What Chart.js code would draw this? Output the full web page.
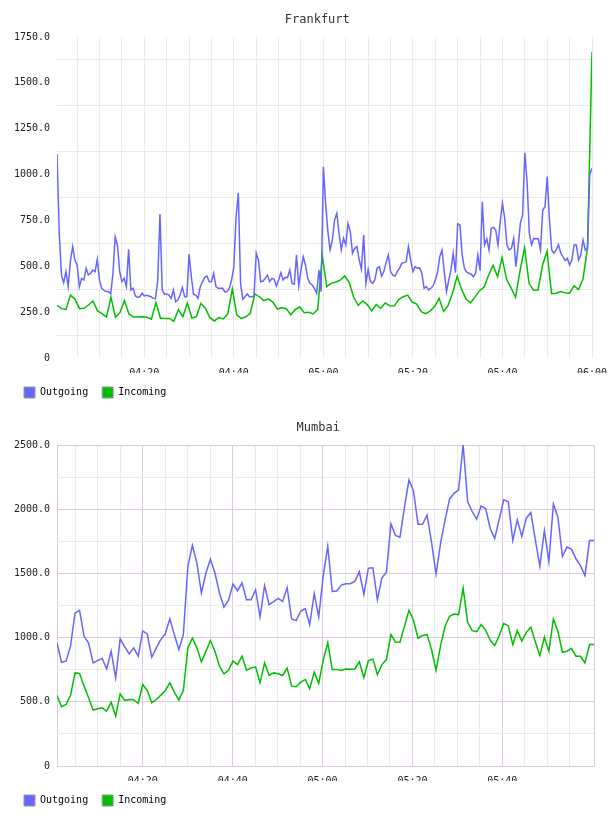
<!DOCTYPE html>
<html>
<head>
<meta charset="utf-8">
<script src="https://cdn.jsdelivr.net/npm/chart.js@4.4.1/dist/chart.umd.min.js"></script>
<style>
    html, body { margin: 0; padding: 0; background: #fff; }
    .chart-box { position: relative; width: 608px; height: 408px; }
</style>
</head>
<body>
<div class="chart-box"><canvas id="frankfurtChart"></canvas></div>
<div class="chart-box"><canvas id="mumbaiChart"></canvas></div>
<script>
// times are minutes after 04:00, samples evenly spread over each window
const seriesNames = ['Outgoing', 'Incoming'];
const frankfurtWindow = [0.5, 120];
const mumbaiWindow = [0.9, 120.4];

const frankfurtOutgoing = [
    1112, 680, 452, 411, 471, 389, 531, 607, 534, 507,
    389, 434, 425, 489, 452, 462, 480, 471, 538, 422,
    380, 369, 362, 362, 349, 462, 661, 616, 471, 416,
    434, 389, 592, 371, 380, 338, 331, 334, 353, 338,
    342, 338, 334, 325, 323, 425, 785, 371, 349, 349,
    343, 325, 371, 307, 316, 343, 385, 334, 334, 567,
    443, 347, 343, 325, 389, 416, 440, 447, 416, 416,
    462, 389, 380, 380, 380, 360, 362, 380, 425, 498,
    770, 901, 407, 320, 334, 349, 334, 334, 338, 571,
    534, 416, 418, 434, 452, 416, 434, 429, 393, 425,
    465, 425, 440, 438, 480, 407, 402, 562, 394, 480,
    552, 507, 434, 407, 398, 380, 353, 480, 361, 1043,
    843, 689, 589, 643, 752, 789, 680, 589, 652, 616,
    734, 689, 571, 598, 607, 534, 485, 671, 407, 483,
    416, 407, 425, 489, 498, 447, 471, 520, 562, 471,
    452, 447, 471, 489, 516, 520, 525, 607, 534, 471,
    498, 489, 491, 462, 380, 389, 371, 380, 393, 425,
    467, 552, 589, 471, 362, 425, 480, 571, 465, 732,
    725, 562, 489, 469, 462, 458, 443, 462, 562, 476,
    852, 616, 650, 589, 707, 712, 698, 616, 743, 843,
    761, 616, 589, 598, 652, 498, 607, 734, 780, 1119,
    961, 680, 618, 652, 650, 650, 589, 807, 825, 989,
    752, 589, 571, 589, 618, 574, 552, 531, 543, 507,
    534, 616, 616, 534, 562, 643, 589, 600, 1000, 1034
];
const frankfurtIncoming = [
    287, 269, 265, 343, 320, 269, 271, 289, 311, 258,
    242, 224, 331, 222, 247, 313, 240, 224, 224, 225,
    222, 211, 302, 218, 216, 216, 200, 264, 225, 300,
    218, 225, 298, 271, 220, 202, 220, 213, 242, 376,
    234, 216, 225, 244, 349, 334, 313, 322, 305, 267,
    274, 269, 236, 265, 278, 247, 249, 240, 265, 558,
    389, 407, 414, 424, 447, 411, 331, 287, 311, 291,
    256, 291, 271, 300, 285, 283, 318, 334, 343, 305,
    294, 253, 242, 256, 280, 325, 254, 287, 356, 445,
    374, 320, 302, 333, 367, 387, 451, 505, 443, 547,
    429, 382, 331, 476, 601, 407, 369, 371, 507, 582,
    351, 353, 362, 356, 353, 393, 373, 431, 600, 1668
];
const mumbaiOutgoing = [
    958, 808, 816, 933, 1192, 1212, 1010, 958, 803, 821,
    839, 756, 894, 687, 990, 927, 873, 920, 855, 1052,
    1028, 847, 920, 984, 1031, 1145, 1023, 907, 1023, 1554,
    1718, 1580, 1347, 1503, 1611, 1503, 1347, 1238, 1290, 1417,
    1365, 1425, 1295, 1295, 1373, 1161, 1404, 1256, 1280, 1306,
    1282, 1389, 1145, 1132, 1205, 1225, 1101, 1342, 1161, 1482,
    1710, 1360, 1363, 1409, 1420, 1420, 1438, 1513, 1337, 1541,
    1544, 1295, 1466, 1510, 1886, 1795, 1782, 2016, 2228, 2143,
    1883, 1883, 1953, 1741, 1495, 1736, 1917, 2080, 2124, 2150,
    2500, 2060, 1982, 1922, 2026, 2003, 1850, 1772, 1922, 2073,
    2057, 1756, 1917, 1788, 1930, 1974, 1762, 1554, 1834, 1593,
    2041, 1938, 1632, 1705, 1689, 1614, 1560, 1482, 1756, 1756
];
const mumbaiIncoming = [
    549, 461, 479, 549, 725, 720, 622, 531, 435, 446,
    453, 427, 497, 389, 562, 510, 518, 516, 487, 635,
    588, 492, 518, 552, 588, 648, 575, 513, 588, 920,
    995, 920, 811, 894, 977, 894, 777, 718, 746, 819,
    790, 855, 746, 764, 772, 648, 803, 705, 725, 718,
    705, 762, 622, 617, 653, 674, 601, 731, 643, 824,
    959, 751, 751, 744, 756, 754, 756, 811, 687, 819,
    834, 712, 790, 829, 1023, 966, 964, 1088, 1212, 1135,
    995, 1016, 1023, 907, 746, 938, 1088, 1166, 1184, 1179,
    1386, 1119, 1054, 1047, 1101, 1057, 979, 938, 1016, 1109,
    1093, 946, 1054, 974, 1041, 1080, 966, 860, 1003, 894,
    1145, 1049, 886, 894, 917, 855, 855, 803, 946, 946
];

const frankfurtYLabels = [0, 250, 500, 750, 1000, 1250, 1500, 1750];
const mumbaiYLabels = [0, 500, 1000, 1500, 2000, 2500];
const frankfurtXLabels = [20, 40, 60, 80, 100, 120];
const mumbaiXLabels = [20, 40, 60, 80, 100];

const FONT = 'DejaVu Sans Mono';
const LINE_COLORS = ['#6666ff', '#00bf00'];
const GRID_GREY = '#eaeaea';
const GRID_PINK = '#e2c6e2';

function spreadTimes(n, win) {
    const step = (win[1] - win[0]) / (n - 1);
    return Array.from({ length: n }, (_, i) => win[0] + i * step);
}

function toPoints(values, win) {
    const times = spreadTimes(values.length, win);
    return values.map((v, i) => ({ x: times[i], y: v }));
}

function timeLabel(m) {
    const h = 4 + Math.floor(m / 60);
    const mm = m % 60;
    return String(h).padStart(2, '0') + ':' + String(mm).padStart(2, '0');
}

function buildChart(canvasId, cfg) {
    const ctx = document.getElementById(canvasId);
    const yLabels = cfg.yLabels;
    const yMax = yLabels[yLabels.length - 1];
    const yMinor = (yLabels[1] - yLabels[0]) / 2;
    const win = cfg.window;

    return new Chart(ctx, {
        type: 'line',
        data: {
            datasets: [
                { label: seriesNames[0], data: toPoints(cfg.outgoing, win) },
                { label: seriesNames[1], data: toPoints(cfg.incoming, win) }
            ].map((ds, i) => Object.assign(ds, {
                borderColor: LINE_COLORS[i],
                backgroundColor: LINE_COLORS[i],
                borderWidth: 1.5,
                pointRadius: 0,
                tension: 0,
                fill: false
            }))
        },
        options: {
            responsive: true,
            maintainAspectRatio: false,
            animation: false,
            events: [],
            layout: { padding: { left: 10, right: cfg.rightPad, top: 0, bottom: 0 } },
            plugins: {
                title: {
                    display: true,
                    fullSize: false,
                    // two trailing spaces pull the centred title a little to the left
                    text: cfg.title + '  ',
                    color: '#333',
                    font: { family: FONT, size: 12, weight: 'normal' },
                    padding: { top: 13, bottom: 9.6 }
                },
                legend: {
                    position: 'bottom',
                    align: 'start',
                    labels: {
                        font: { family: FONT, size: 10 },
                        color: '#222',
                        boxWidth: 11,
                        boxHeight: 11,
                        padding: 14,
                        generateLabels: (chart) => chart.data.datasets.map((ds, i) => ({
                            text: ds.label,
                            fillStyle: ds.borderColor,
                            strokeStyle: '#999',
                            lineWidth: 1,
                            hidden: false,
                            datasetIndex: i
                        }))
                    }
                },
                tooltip: { enabled: false }
            },
            scales: {
                x: {
                    type: 'linear',
                    min: win[0],
                    max: win[1],
                    border: { display: false },
                    afterBuildTicks: (scale) => {
                        const ticks = [];
                        if (cfg.framed) ticks.push({ value: win[0] });
                        for (let m = 5; m < win[1] - 1; m += 5) ticks.push({ value: m });
                        ticks.push({ value: win[1] });
                        scale.ticks = ticks;
                    },
                    afterFit: (scale) => {
                        scale.height = 15;
                        scale.paddingLeft = 0;
                        scale.paddingRight = 0;
                    },
                    grid: {
                        drawTicks: false,
                        color: (c) => {
                            if (!cfg.framed) return GRID_GREY;
                            const v = c.tick ? c.tick.value : 0;
                            return (v === win[0] || v === win[1] || v % 20 === 0) ? GRID_PINK : GRID_GREY;
                        }
                    },
                    ticks: {
                        autoSkip: false,
                        maxRotation: 0,
                        minRotation: 0,
                        padding: 9,
                        color: '#222',
                        font: { family: FONT, size: 10 },
                        callback: (v) => cfg.xLabels.includes(v) ? timeLabel(v) : ''
                    }
                },
                y: {
                    min: 0,
                    max: yMax,
                    border: { display: false },
                    afterBuildTicks: (scale) => {
                        const ticks = [];
                        for (let v = 0; v <= yMax; v += yMinor) ticks.push({ value: v });
                        scale.ticks = ticks;
                    },
                    afterFit: (scale) => { scale.width = 47; },
                    grid: {
                        drawTicks: false,
                        color: (c) => {
                            const v = c.tick ? c.tick.value : 0;
                            if (yLabels.includes(v)) return cfg.framed ? GRID_PINK : 'rgba(0,0,0,0)';
                            return GRID_GREY;
                        }
                    },
                    ticks: {
                        padding: 7,
                        color: '#222',
                        font: { family: FONT, size: 10 },
                        callback: (v) => yLabels.includes(v) ? (v === 0 ? '0' : v.toFixed(1)) : ''
                    }
                }
            }
        }
    });
}

buildChart('frankfurtChart', {
    title: 'Frankfurt',
    outgoing: frankfurtOutgoing,
    incoming: frankfurtIncoming,
    window: frankfurtWindow,
    yLabels: frankfurtYLabels,
    xLabels: frankfurtXLabels,
    framed: false,
    rightPad: 16
});

buildChart('mumbaiChart', {
    title: 'Mumbai',
    outgoing: mumbaiOutgoing,
    incoming: mumbaiIncoming,
    window: mumbaiWindow,
    yLabels: mumbaiYLabels,
    xLabels: mumbaiXLabels,
    framed: true,
    rightPad: 14
});
</script>
</body>
</html>
